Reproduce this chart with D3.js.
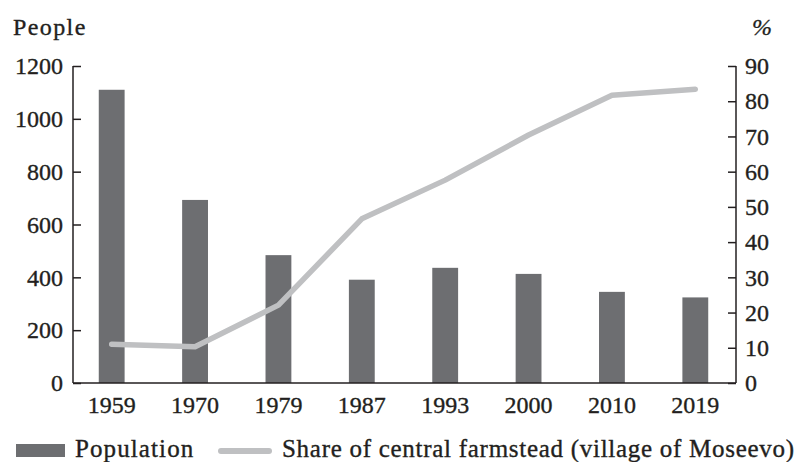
<!DOCTYPE html>
<html>
<head>
<meta charset="utf-8">
<script src="https://cdn.jsdelivr.net/npm/d3@7"></script>
<style>
  html, body { margin: 0; padding: 0; background: #fff; }
  svg { display: block; }
  text { font-family: "Liberation Serif", "Times New Roman", serif; fill: #231f20; stroke: #231f20; stroke-width: 0.35px; }
</style>
</head>
<body>
<svg id="chart" width="796" height="462"></svg>
<script>
const years = ["1959", "1970", "1979", "1987", "1993", "2000", "2010", "2019"];
const population = [1110, 693, 484, 391, 436, 413, 345, 324];
const sharePct = [11.0, 10.3, 22.1, 46.6, 57.6, 70.4, 81.7, 83.4];
const leftTicks = [0, 200, 400, 600, 800, 1000, 1200];
const rightTicks = [0, 10, 20, 30, 40, 50, 60, 70, 80, 90];
const leftTitle = "People";
const rightTitle = "%";
const legendLabels = ["Population", "Share of central farmstead (village of Moseevo)"];

const barColor = "#6d6e71";
const lineColor = "#bfc0c2";
const axisColor = "#231f20";

const svg = d3.select("#chart");
const axL = 73, axR = 736, plotTop = 66, plotBottom = 383;

const x = d3.scaleBand().domain(years).range([70, 737]).paddingInner(0.69).paddingOuter(0.345);
const yL = d3.scaleLinear().domain([0, 1200]).range([plotBottom, plotTop]);
const yR = d3.scaleLinear().domain([0, 90]).range([plotBottom, plotTop]);

// bars
svg.append("g").selectAll("rect").data(years).join("rect")
  .attr("x", d => x(d))
  .attr("width", x.bandwidth())
  .attr("y", (d, i) => yL(population[i]))
  .attr("height", (d, i) => plotBottom - yL(population[i]))
  .attr("fill", barColor);

// line
const line = d3.line()
  .x((d, i) => x(years[i]) + x.bandwidth() / 2)
  .y(d => yR(d));
svg.append("path").datum(sharePct)
  .attr("d", line)
  .attr("fill", "none")
  .attr("stroke", lineColor)
  .attr("stroke-width", 5.5)
  .attr("stroke-linejoin", "round")
  .attr("stroke-linecap", "round");

// left axis
const gL = svg.append("g").attr("transform", `translate(${axL},0)`)
  .call(d3.axisRight(yL).tickValues(leftTicks).tickSize(8).tickFormat(d3.format("d")));
gL.select(".domain").remove();
gL.selectAll(".tick line").attr("stroke", axisColor).attr("stroke-width", 1.5);
gL.selectAll(".tick text").attr("x", -10).attr("text-anchor", "end")
  .style("font-size", "24px").style("font-family", "'Liberation Serif'").attr("fill", axisColor);
svg.append("line").attr("x1", axL).attr("x2", axL).attr("y1", plotTop).attr("y2", plotBottom)
  .attr("stroke", axisColor).attr("stroke-width", 1.5);

// right axis
const gR = svg.append("g").attr("transform", `translate(${axR},0)`)
  .call(d3.axisLeft(yR).tickValues(rightTicks).tickSize(8).tickFormat(d3.format("d")));
gR.select(".domain").remove();
gR.selectAll(".tick line").attr("stroke", axisColor).attr("stroke-width", 1.5);
gR.selectAll(".tick text").attr("x", 9).attr("text-anchor", "start")
  .style("font-size", "24px").style("font-family", "'Liberation Serif'").attr("fill", axisColor);
svg.append("line").attr("x1", axR).attr("x2", axR).attr("y1", plotTop).attr("y2", plotBottom)
  .attr("stroke", axisColor).attr("stroke-width", 1.5);

// bottom axis
const gB = svg.append("g").attr("transform", `translate(0,${plotBottom})`)
  .call(d3.axisBottom(x).tickSize(0));
gB.select(".domain").remove();
gB.selectAll(".tick text").attr("y", 0).attr("dy", "30px")
  .style("font-size", "24px").style("font-family", "'Liberation Serif'").attr("fill", axisColor);
svg.append("line").attr("x1", axL).attr("x2", axR).attr("y1", plotBottom).attr("y2", plotBottom)
  .attr("stroke", axisColor).attr("stroke-width", 1.5);

// axis titles
svg.append("text").attr("x", 13).attr("y", 35).text(leftTitle)
  .style("font-size", "24px").style("letter-spacing", "1.4px");
svg.append("text").attr("x", 752).attr("y", 35).text(rightTitle)
  .style("font-size", "24px").style("font-style", "italic");

// legend
const lg = svg.append("g");
lg.append("rect").attr("x", 16).attr("y", 444).attr("width", 49).attr("height", 13).attr("fill", barColor);
lg.append("text").attr("x", 75).attr("y", 457).text(legendLabels[0])
  .style("font-size", "25px").style("letter-spacing", "1.1px");
lg.append("line").attr("x1", 221).attr("x2", 269).attr("y1", 451).attr("y2", 451)
  .attr("stroke", lineColor).attr("stroke-width", 6).attr("stroke-linecap", "round");
lg.append("text").attr("x", 282).attr("y", 457).text(legendLabels[1])
  .style("font-size", "25px").style("letter-spacing", "0.72px");
</script>
</body>
</html>
